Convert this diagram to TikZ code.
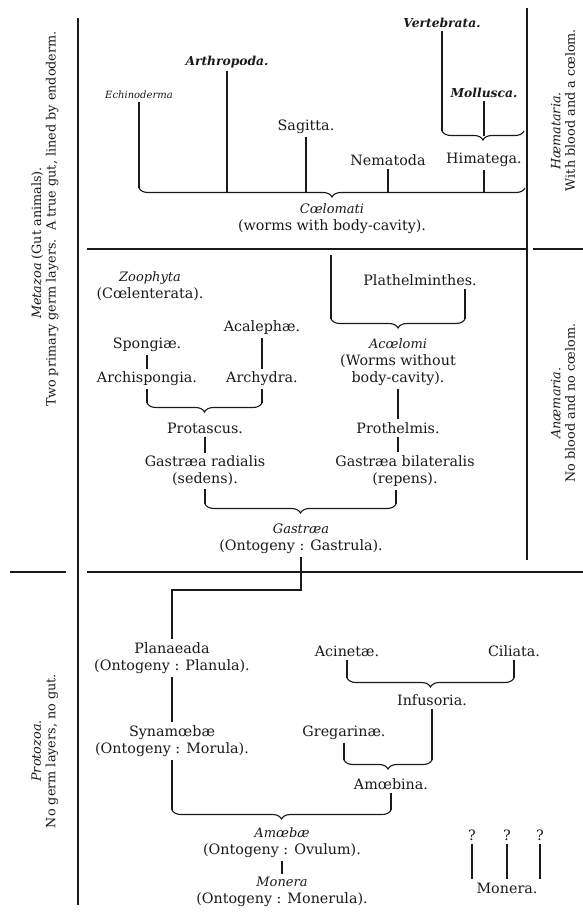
\documentclass[tikz,border=0pt]{standalone}
\usepackage{fontspec}
\setmainfont{DejaVu Serif}
\usetikzlibrary{positioning, decorations.pathreplacing}
\definecolor{PlateInk}{HTML}{1A1A1A}
\definecolor{PlatePaper}{HTML}{FFFFFF}
\newcommand\taxname[1]{{\fontsize{13}{16}\selectfont\itshape #1}}
\tikzset{
  taxlbl/.style   = {align=center, text=PlateInk, inner sep=3pt,
                     font=\fontsize{14.3}{17}\selectfont},
  taxsmall/.style = {taxlbl, font=\fontsize{10}{11}\selectfont\itshape},
  taxbold/.style  = {taxlbl, font=\fontsize{12.3}{14}\selectfont\bfseries\itshape},
  sidelbl/.style  = {taxlbl, rotate=90, font=\fontsize{12.8}{14.5}\selectfont},
  taxstem/.style  = {draw=PlateInk, line width=1.1pt},
  taxbrace/.style = {draw=PlateInk, line width=1.1pt, decorate,
                     decoration={brace, mirror, amplitude=9pt}},
  taxrule/.style  = {draw=PlateInk, line width=1.2pt},
}

\begin{document}
\begin{tikzpicture}[x=1pt, y=-1pt]
    \fill[PlatePaper] (0,0) rectangle (583,913);
    \useasboundingbox (0,0) rectangle (583,913);
    % frame
    \draw[taxrule] (78,18) -- (78,905);
    \draw[taxrule] (527,8) -- (527,560);
    \draw[taxrule] (87,249) -- (527,249);
    \draw[taxrule] (533,249) -- (583,249);
    \draw[taxrule] (10,572) -- (66,572);
    \draw[taxrule] (87,572) -- (583,572);
    \node[sidelbl] (metazoa) at (45,219) {\textit{Metazoa} (Gut animals).\hspace*{48pt}\\Two primary germ layers.\ \ A true gut, lined by endoderm.};
    \node[sidelbl] (protozoa) at (45,751) {\textit{Protozoa.}\\No germ layers, no gut.};
    \node[sidelbl] (haemat) at (563,110) {\textit{Hæmataria.}\hspace*{42pt}\\With blood and a cœlom.};
    \node[sidelbl] (anaem) at (563,403) {\textit{Anæmaria.}\\No blood and no cœlom.};

    % Coelomati
    \node[taxbold] (vert) at (442,23) {Vertebrata.};
    \node[taxbold] (arth) at (227,62) {Arthropoda.};
    \node[taxsmall] (echi) at (139,95) {Echinoderma};
    \node[taxbold] (moll) at (484,93) {Mollusca.};
    \node[taxlbl] (sag) at (306,127) {Sagitta.};
    \node[taxlbl] (nema) at (388,160) {Nematoda};
    \node[taxlbl] (hima) at (484,160) {Himatega.};
    \coordinate (vmL) at (442,131);
    \coordinate (vmR) at (524,131);
    \coordinate (vmBar) at (484,135.5);
    \draw[taxstem] (vert) -- (vmL);
    \draw[taxstem] (moll) -- (moll |- vmBar);
    \draw[taxbrace] (vmL) -- (vmR);
    \coordinate (coelL) at (139,188);
    \coordinate (coelR) at (525,188);
    \coordinate (coelBar) at (332,192.5);
    \draw[taxstem] (echi) -- (coelL);
    \draw[taxstem] (arth) -- (arth |- coelBar);
    \draw[taxstem] (sag) -- (sag |- coelBar);
    \draw[taxstem] (nema) -- (nema |- coelBar);
    \draw[taxstem] (hima) -- (hima |- coelBar);
    \draw[taxbrace] (coelL) -- (coelR);
    \node[taxlbl] (coel) at (332,219) {\taxname{Cœlomati}\\(worms with body-cavity).};

    % Gastraea
    \coordinate (acTop) at (331,255);
    \coordinate (acL) at (331,319);
    \coordinate (acR) at (465,319);
    \node[taxlbl] (plat) at (420,280) {Plathelminthes.};
    \draw[taxstem] (acTop) -- (acL);
    \draw[taxstem] (plat.south -| acR) -- (acR);
    \draw[taxbrace] (acL) -- (acR);
    \node[taxlbl] (aco) at (398,362) {\taxname{Acœlomi}\\(Worms without\\body-cavity).};
    \node[taxlbl] (zoo) at (150,286) {\taxname{Zoophyta}\\(Cœlenterata).};
    \node[taxlbl] (acal) at (262,328) {Acalephæ.};
    \node[taxlbl] (spon) at (147,345) {Spongiæ.};
    \node[taxlbl] (archs) at (147,379) {Archispongia.};
    \node[taxlbl] (archy) at (262,379) {Archydra.};
    \draw[taxstem] (acal) -- (archy);
    \draw[taxstem] (spon) -- (archs);
    \coordinate (ptL) at (147,403);
    \coordinate (ptR) at (262,403);
    \draw[taxstem] (archs) -- (ptL);
    \draw[taxstem] (archy) -- (ptR);
    \draw[taxbrace] (ptL) -- (ptR);
    \node[taxlbl] (prota) at (205,428) {Protascus.};
    \node[taxlbl] (gradi) at (205,471) {Gastræa radialis\\(sedens).};
    \draw[taxstem] (prota) -- (gradi);
    \node[taxlbl] (prothe) at (398,428) {Prothelmis.};
    \node[taxlbl] (gbil) at (405,471) {Gastræa bilateralis\\(repens).};
    \draw[taxstem] (aco) -- (prothe);
    \draw[taxstem] (prothe) -- (gbil.north -| prothe);
    \coordinate (gaL) at (205,504);
    \coordinate (gaR) at (396,504);
    \draw[taxstem] (gradi) -- (gaL);
    \draw[taxstem] (gbil.south -| gaR) -- (gaR);
    \draw[taxbrace] (gaL) -- (gaR);
    \node[taxlbl] (gast) at (301,539) {\taxname{Gastræa}\\(Ontogeny : Gastrula).};

    % Protozoa
    \coordinate (gtTurn) at (172,590);
    \node[taxlbl] (plan) at (172,658) {Planaeada\\(Ontogeny : Planula).};
    \draw[taxstem] (gast) |- (gtTurn) -- (plan);
    \node[taxlbl] (syn) at (172,741) {Synamœbæ\\(Ontogeny : Morula).};
    \draw[taxstem] (plan) -- (syn);
    \node[taxlbl] (acin) at (347,651) {Acinetæ.};
    \node[taxlbl] (cili) at (514,651) {Ciliata.};
    \coordinate (inL) at (347,678);
    \coordinate (inR) at (514,678);
    \draw[taxstem] (acin) -- (inL);
    \draw[taxstem] (cili) -- (inR);
    \draw[taxbrace] (inL) -- (inR);
    \node[taxlbl] (infu) at (432,700) {Infusoria.};
    \node[taxlbl] (greg) at (344,733) {Gregarinæ.};
    \coordinate (abL) at (344,760);
    \coordinate (abR) at (432,760);
    \draw[taxstem] (greg) -- (abL);
    \draw[taxstem] (infu) -- (abR);
    \draw[taxbrace] (abL) -- (abR);
    \node[taxlbl] (amob) at (391,784) {Amœbina.};
    \coordinate (amL) at (172,810);
    \coordinate (amR) at (391,810);
    \draw[taxstem] (syn) -- (amL);
    \draw[taxstem] (amob) -- (amR);
    \draw[taxbrace] (amL) -- (amR);
    \node[taxlbl] (amoe) at (282,843) {\taxname{Amœbæ}\\(Ontogeny : Ovulum).};
    \node[taxlbl] (mon) at (282,892) {\taxname{Monera}\\(Ontogeny : Monerula).};
    \draw[taxstem] (amoe) -- (mon);
    \node[taxlbl] (q1) at (472,835) {?};
    \node[taxlbl] (q2) at (507,835) {?};
    \node[taxlbl] (q3) at (540,835) {?};
    \node[taxlbl] (mon2) at (507,888) {Monera.};
    \draw[taxstem] (q1) -- (q1 |- mon2.north);
    \draw[taxstem] (q2) -- (q2 |- mon2.north);
    \draw[taxstem] (q3) -- (q3 |- mon2.north);
  \end{tikzpicture}
\end{document}
